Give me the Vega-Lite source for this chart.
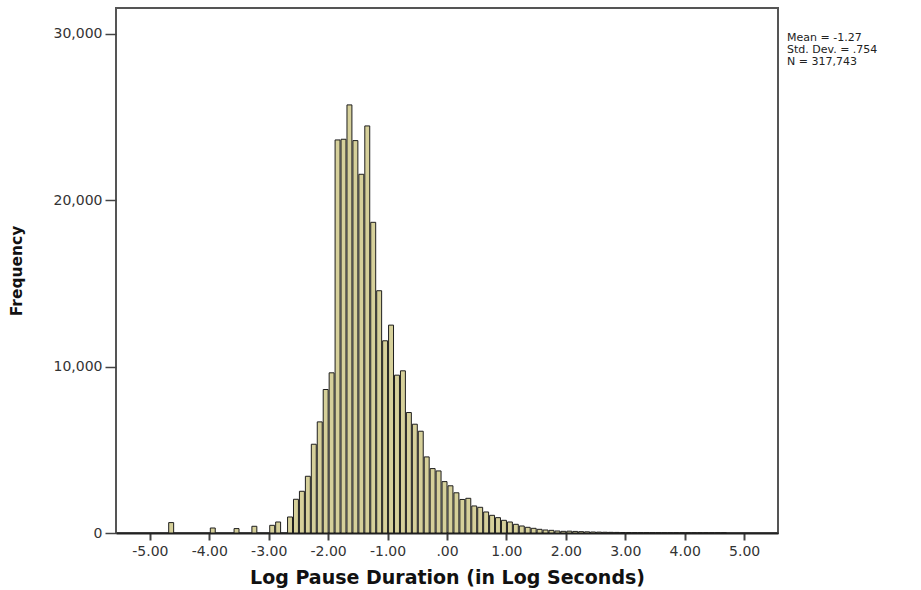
{
  "$schema": "https://vega.github.io/schema/vega-lite/v6.json",
  "autosize": {"type": "none"},
  "padding": {"left": 116, "top": 8, "right": 143, "bottom": 57},
  "width": 662,
  "height": 525,
  "background": "white",
  "config": {
    "view": {"fill": "#f0f0f0", "stroke": "#555555", "strokeWidth": 2},
    "font": "DejaVu Sans"
  },
  "datasets": {
    "bins": [
      {"lo": -4.7, "hi": -4.6, "count": 626},
      {"lo": -4.0, "hi": -3.9, "count": 300},
      {"lo": -3.6, "hi": -3.5, "count": 265},
      {"lo": -3.3, "hi": -3.2, "count": 403},
      {"lo": -3.0, "hi": -2.9, "count": 462},
      {"lo": -2.9, "hi": -2.8, "count": 662},
      {"lo": -2.7, "hi": -2.6, "count": 963},
      {"lo": -2.6, "hi": -2.5, "count": 2027},
      {"lo": -2.5, "hi": -2.4, "count": 2508},
      {"lo": -2.4, "hi": -2.3, "count": 3410},
      {"lo": -2.3, "hi": -2.2, "count": 5336},
      {"lo": -2.2, "hi": -2.1, "count": 6680},
      {"lo": -2.1, "hi": -2.0, "count": 8626},
      {"lo": -2.0, "hi": -1.9, "count": 9629},
      {"lo": -1.9, "hi": -1.8, "count": 23628},
      {"lo": -1.8, "hi": -1.7, "count": 23670},
      {"lo": -1.7, "hi": -1.6, "count": 25735},
      {"lo": -1.6, "hi": -1.5, "count": 23589},
      {"lo": -1.5, "hi": -1.4, "count": 21565},
      {"lo": -1.4, "hi": -1.3, "count": 24471},
      {"lo": -1.3, "hi": -1.2, "count": 18676},
      {"lo": -1.2, "hi": -1.1, "count": 14564},
      {"lo": -1.1, "hi": -1.0, "count": 11555},
      {"lo": -1.0, "hi": -0.9, "count": 12497},
      {"lo": -0.9, "hi": -0.8, "count": 9488},
      {"lo": -0.8, "hi": -0.7, "count": 9749},
      {"lo": -0.7, "hi": -0.6, "count": 7242},
      {"lo": -0.6, "hi": -0.5, "count": 6540},
      {"lo": -0.5, "hi": -0.4, "count": 6118},
      {"lo": -0.4, "hi": -0.3, "count": 4574},
      {"lo": -0.3, "hi": -0.2, "count": 3872},
      {"lo": -0.2, "hi": -0.1, "count": 3731},
      {"lo": -0.1, "hi": 0.0, "count": 3089},
      {"lo": 0.0, "hi": 0.1, "count": 2838},
      {"lo": 0.1, "hi": 0.2, "count": 2417},
      {"lo": 0.2, "hi": 0.3, "count": 2016},
      {"lo": 0.3, "hi": 0.4, "count": 2086},
      {"lo": 0.4, "hi": 0.5, "count": 1625},
      {"lo": 0.5, "hi": 0.6, "count": 1545},
      {"lo": 0.6, "hi": 0.7, "count": 1264},
      {"lo": 0.7, "hi": 0.8, "count": 1063},
      {"lo": 0.8, "hi": 0.9, "count": 923},
      {"lo": 0.9, "hi": 1.0, "count": 762},
      {"lo": 1.0, "hi": 1.1, "count": 662},
      {"lo": 1.1, "hi": 1.2, "count": 522},
      {"lo": 1.2, "hi": 1.3, "count": 421},
      {"lo": 1.3, "hi": 1.4, "count": 341},
      {"lo": 1.4, "hi": 1.5, "count": 281},
      {"lo": 1.5, "hi": 1.6, "count": 221},
      {"lo": 1.6, "hi": 1.7, "count": 180},
      {"lo": 1.7, "hi": 1.8, "count": 160},
      {"lo": 1.8, "hi": 1.9, "count": 120},
      {"lo": 1.9, "hi": 2.0, "count": 100},
      {"lo": 2.0, "hi": 2.1, "count": 110},
      {"lo": 2.1, "hi": 2.2, "count": 95},
      {"lo": 2.2, "hi": 2.3, "count": 80},
      {"lo": 2.3, "hi": 2.4, "count": 70},
      {"lo": 2.4, "hi": 2.5, "count": 60},
      {"lo": 2.5, "hi": 2.6, "count": 52},
      {"lo": 2.6, "hi": 2.7, "count": 45},
      {"lo": 2.7, "hi": 2.8, "count": 40},
      {"lo": 2.8, "hi": 2.9, "count": 35},
      {"lo": 2.9, "hi": 3.0, "count": 30},
      {"lo": 3.0, "hi": 3.1, "count": 27},
      {"lo": 3.1, "hi": 3.2, "count": 24},
      {"lo": 3.2, "hi": 3.3, "count": 21},
      {"lo": 3.3, "hi": 3.4, "count": 19},
      {"lo": 3.4, "hi": 3.5, "count": 17},
      {"lo": 3.5, "hi": 3.6, "count": 15},
      {"lo": 3.6, "hi": 3.7, "count": 13},
      {"lo": 3.7, "hi": 3.8, "count": 12},
      {"lo": 3.8, "hi": 3.9, "count": 10},
      {"lo": 3.9, "hi": 4.0, "count": 9},
      {"lo": 4.0, "hi": 4.1, "count": 8},
      {"lo": 4.1, "hi": 4.2, "count": 7},
      {"lo": 4.2, "hi": 4.3, "count": 6},
      {"lo": 4.3, "hi": 4.4, "count": 5},
      {"lo": 4.4, "hi": 4.5, "count": 4},
      {"lo": 4.5, "hi": 4.6, "count": 3},
      {"lo": 4.6, "hi": 4.7, "count": 3}
    ],
    "stats": [
      {"stat": "Mean = -1.27"},
      {"stat": "Std. Dev. = .754"},
      {"stat": "N = 317,743"}
    ]
  },
  "layer": [
    {
      "data": {"name": "bins"},
      "mark": {"type": "bar", "fill": "#d6d09a", "stroke": "#1e1e1e", "strokeWidth": 1},
      "encoding": {
        "x": {
          "field": "lo", "type": "quantitative", "bin": "binned",
          "scale": {"domain": [-5.57, 5.57], "nice": false, "zero": false},
          "axis": {
            "title": "Log Pause Duration (in Log Seconds)",
            "values": [-5, -4, -3, -2, -1, 0, 1, 2, 3, 4, 5],
            "labelExpr": "datum.value == 0 ? '.00' : replace(format(datum.value, '.2f'), '\u2212', '-')",
            "grid": false,
            "domain": true, "domainColor": "#222222", "domainWidth": 2,
            "ticks": true, "tickSize": 7, "tickColor": "#444444", "tickWidth": 2,
            "labelFont": "DejaVu Sans", "labelFontSize": 14, "labelColor": "#333333", "labelPadding": 4,
            "titleFont": "DejaVu Sans", "titleFontSize": 19, "titleFontWeight": "bold", "titleColor": "#111111", "titlePadding": 10
          }
        },
        "x2": {"field": "hi"},
        "y": {
          "field": "count", "type": "quantitative",
          "scale": {"domain": [0, 31560], "nice": false},
          "axis": {
            "title": "Frequency",
            "values": [0, 10000, 20000, 30000],
            "labelExpr": "format(datum.value, ',')",
            "grid": false,
            "domain": false,
            "ticks": true, "tickSize": 11, "tickColor": "#444444", "tickWidth": 1.5,
            "labelFont": "DejaVu Sans", "labelFontSize": 14, "labelColor": "#333333", "labelPadding": 3,
            "titleFont": "DejaVu Sans", "titleFontSize": 15.5, "titleFontWeight": "bold", "titleColor": "#111111",
            "titleX": -100, "titleBaseline": "middle"
          }
        }
      }
    },
    {
      "data": {"name": "stats"},
      "mark": {"type": "point", "opacity": 0},
      "encoding": {
        "color": {
          "field": "stat", "type": "nominal",
          "scale": {"domain": ["Mean = -1.27", "Std. Dev. = .754", "N = 317,743"], "range": ["#000000", "#000000", "#000000"]},
          "legend": {
            "title": null,
            "orient": "none",
            "legendX": 660,
            "legendY": 24,
            "padding": 0,
            "symbolSize": 0,
            "symbolStrokeWidth": 0,
            "symbolOpacity": 0,
            "labelOffset": 0,
            "rowPadding": 0,
            "labelFont": "DejaVu Sans",
            "labelFontSize": 11,
            "labelColor": "#222222"
          }
        }
      }
    }
  ]
}
